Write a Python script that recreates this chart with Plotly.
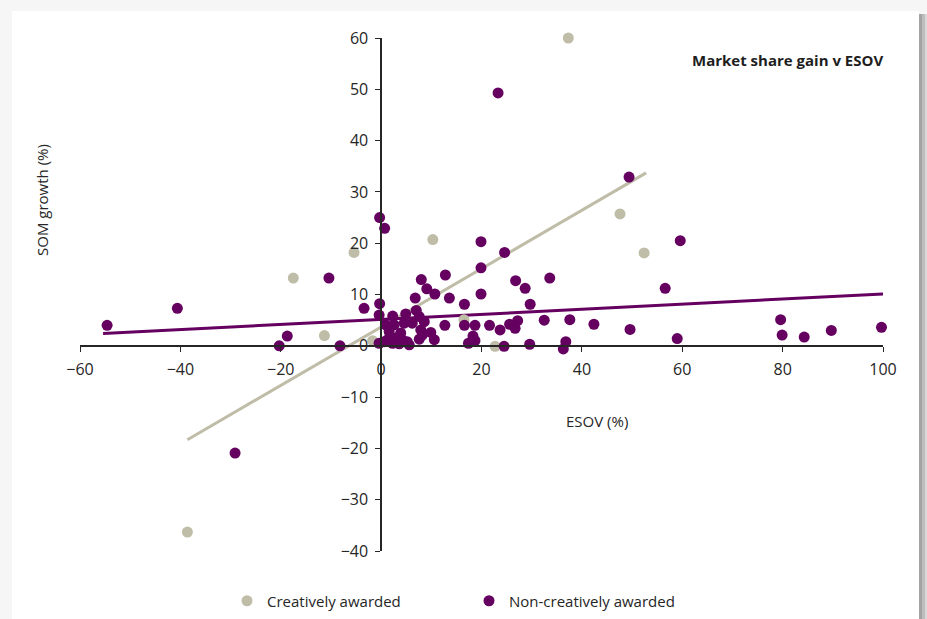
import plotly.graph_objects as go

# ESOV (%) and SOM growth (%) per campaign
creative_esov = [37.3, -17.5, -5.4, 10.3, -11.3, 47.6, 52.4, -38.6, 22.7, 16.5, -1.7]
creative_som = [60.0, 13.2, 18.2, 20.7, 2.0, 25.7, 18.1, -36.3, -0.1, 5.1, 1.0]

noncreative_esov = [
    -54.6, -40.6, -29.1, -20.3, -18.7, -10.4, -8.2, -3.4, -0.3, 0.7,
    -0.3, -0.4, 2.3, 4.9, 7.0, 7.6, 0.9, 2.6, 4.6, 6.2,
    8.6, 1.6, 3.9, 7.9, 2.9, 8.2, 9.9, 10.6, 7.6, -0.4,
    0.6, 2.3, 3.6, 5.2, 5.6, 4.2, 1.3, 6.8, 8.0, 9.1,
    10.7, 12.8, 13.6, 12.7, 16.6, 16.6, 18.7, 17.4, 18.3, 18.7,
    19.9, 19.9, 19.9, 21.6, 23.3, 23.7, 24.5, 24.6, 25.6, 26.7,
    27.2, 26.8, 28.7, 29.7, 29.6, 32.5, 33.6, 36.3, 36.8, 37.6,
    42.4, 49.4, 49.6, 56.6, 59.0, 59.6, 79.6, 79.9, 84.3, 89.7,
    99.7,
]
noncreative_som = [
    4.0, 7.3, -20.9, 0.0, 1.9, 13.2, 0.0, 7.3, 25.0, 22.9,
    8.2, 6.0, 5.8, 6.2, 6.9, 5.7, 4.1, 4.1, 4.4, 4.4,
    4.7, 2.8, 2.5, 3.1, 1.5, 2.1, 2.6, 1.2, 1.3, 0.5,
    0.8, 0.5, 0.4, 0.8, 0.2, 1.2, 1.2, 9.3, 12.9, 11.1,
    10.1, 13.8, 9.3, 4.0, 8.1, 4.0, 4.0, 0.5, 1.9, 1.0,
    20.3, 15.2, 10.1, 4.0, 49.3, 3.1, -0.1, 18.2, 4.2, 3.4,
    4.9, 12.7, 11.2, 8.1, 0.3, 5.0, 13.2, -0.6, 0.8, 5.1,
    4.2, 32.9, 3.2, 11.2, 1.4, 20.5, 5.1, 2.1, 1.7, 3.0,
    3.6,
]

# Trend line end points
creative_trend_x = [-38.6, 52.8]
creative_trend_y = [-18.3, 33.7]
noncreative_trend_x = [-55.4, 100]
noncreative_trend_y = [2.4, 10.1]

x_ticks = [-60, -40, -20, 0, 20, 40, 60, 80, 100]
y_ticks = [-40, -30, -20, -10, 0, 10, 20, 30, 40, 50, 60]

PURPLE = "#650060"
BEIGE = "#bfbda7"
INK = "#262626"
FONT = "Open Sans"

W, H = 927, 619
L, R, T, B = 80, 44, 38, 68
PW, PH = W - L - R, H - T - B


def px(xp):
    return (xp - L) / PW


def py(yp):
    return (H - B - yp) / PH


fig = go.Figure()

fig.add_trace(go.Scatter(
    x=creative_trend_x, y=creative_trend_y, mode="lines",
    line=dict(color=BEIGE, width=3), showlegend=False, hoverinfo="skip",
))
fig.add_trace(go.Scatter(
    x=noncreative_trend_x, y=noncreative_trend_y, mode="lines",
    line=dict(color=PURPLE, width=3), showlegend=False, hoverinfo="skip",
))
fig.add_trace(go.Scatter(
    x=creative_esov, y=creative_som, mode="markers", name="Creatively awarded",
    marker=dict(color=BEIGE, size=11), cliponaxis=False,
))
fig.add_trace(go.Scatter(
    x=noncreative_esov, y=noncreative_som, mode="markers", name="Non-creatively awarded",
    marker=dict(color=PURPLE, size=11), cliponaxis=False,
))

axis_common = dict(
    showgrid=False, zeroline=False, showline=True, linecolor=INK, linewidth=1.5,
    ticks="outside", ticklen=5, tickwidth=1.2, tickcolor=INK,
    tickfont=dict(family=FONT, size=16, color=INK),
    automargin=False,
)

fig.update_layout(
    width=W, height=H,
    margin=dict(l=L, r=R, t=T, b=B, autoexpand=False),
    paper_bgcolor="#f6f6f6",
    plot_bgcolor="rgba(0,0,0,0)",
    font=dict(family=FONT, color=INK),
    xaxis=dict(range=[-60, 100], tickvals=x_ticks, anchor="free", position=0.4,
               ticklabelstandoff=4, **axis_common),
    yaxis=dict(range=[-40, 60], tickvals=y_ticks, anchor="free", position=0.375,
               ticklabelstandoff=4, **axis_common),
    legend=dict(orientation="h", xref="container", yref="container",
                x=227 / W, y=1 - 601 / H, xanchor="left", yanchor="middle",
                font=dict(family=FONT, size=15, color=INK), entrywidth=197,
                entrywidthmode="pixels", bgcolor="rgba(0,0,0,0)"),
    showlegend=True,
    shapes=[
        # white card
        dict(type="rect", xref="paper", yref="paper", x0=px(12), x1=px(919),
             y0=py(640), y1=py(11), fillcolor="white", line_width=0, layer="below"),
        # right edge shadow
        dict(type="rect", xref="paper", yref="paper", x0=px(919), x1=px(922),
             y0=py(640), y1=py(14), fillcolor="#a3a3a3", line_width=0, layer="below"),
        dict(type="rect", xref="paper", yref="paper", x0=px(922), x1=px(925),
             y0=py(640), y1=py(14), fillcolor="#bdbdbd", line_width=0, layer="below"),
        dict(type="rect", xref="paper", yref="paper", x0=px(925), x1=px(927),
             y0=py(640), y1=py(14), fillcolor="#d9d9d9", line_width=0, layer="below"),
    ],
    annotations=[
        dict(text="<b>Market share gain v ESOV</b>", xref="paper", yref="paper",
             x=px(885), y=py(60), xanchor="right", yanchor="middle", showarrow=False,
             font=dict(family=FONT, size=15, color="#1e1e1e")),
        dict(text="SOM growth (%)", xref="paper", yref="paper", x=px(42), y=py(200),
             xanchor="center", yanchor="middle", textangle=-90, showarrow=False,
             font=dict(family=FONT, size=15, color=INK)),
        dict(text="ESOV (%)", xref="paper", yref="paper", x=px(597), y=py(421),
             xanchor="center", yanchor="middle", showarrow=False,
             font=dict(family=FONT, size=15, color=INK)),
    ],
)

fig.write_html("out.html")
